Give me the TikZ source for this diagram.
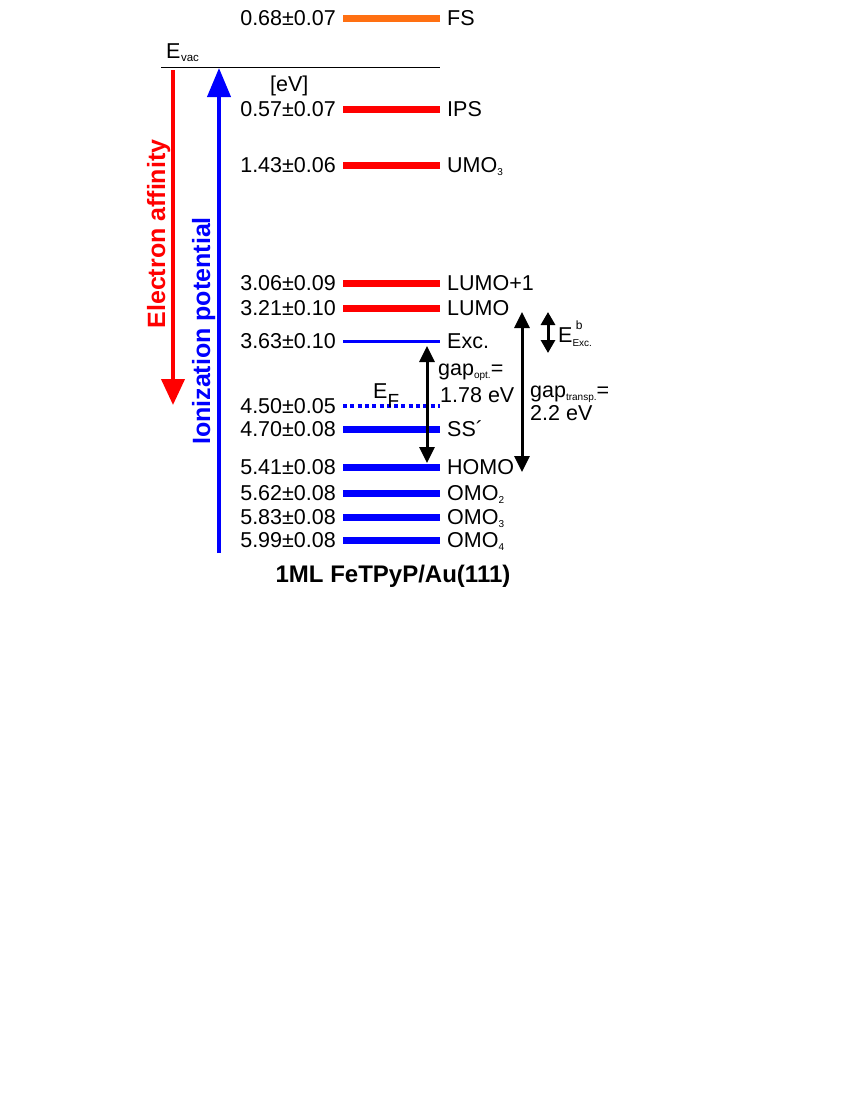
\documentclass[tikz,border=0pt]{standalone}
\usepackage{fontspec}
\setmainfont{Liberation Sans}
\usetikzlibrary{arrows.meta}
\definecolor{fsorange}{RGB}{255,112,18}
\newcommand\lowsub[2][10]{\raisebox{-3pt}{\fontsize{#1}{#1}\selectfont #2}}
\newcommand\Lvl[5]{%
  \coordinate (#1L) at (343,#2);
  \coordinate (#1R) at (440,#2);
  \draw[#3] (#1L) -- (#1R);
  \node[val] (#1v) at (336,#2+7.7) {#4};
  \node[lab] (#1n) at (447,#2+7.7) {#5};}
\begin{document}
\begin{tikzpicture}[x=1pt,y=-1pt,
  big/.style={font=\fontsize{21.5}{24}\selectfont},
  val/.style={anchor=base east,inner sep=0pt,big},
  lab/.style={anchor=base west,inner sep=0pt,big},
  thick lvl/.style={line width=7pt},
  gaparrow/.style={line width=3pt,{Triangle[width=15pt,length=16pt]}-{Triangle[width=15pt,length=16pt]}},
  smallarrow/.style={line width=3pt,{Triangle[width=14pt,length=13pt]}-{Triangle[width=14pt,length=13pt]}},
  bigtext/.style={font=\bfseries\fontsize{25}{28}\selectfont,inner sep=0pt,anchor=base}]
\useasboundingbox (0,0) rectangle (850,1100);

% vacuum level
\coordinate (vacL) at (161,67);
\coordinate (vacR) at (440,67);
\draw[line width=0.9pt] (vacL) -- (vacR);
\node[lab] (evac) at (166,58) {E\lowsub[11.5]{\kern0.5pt vac}};
\node[lab] (ev) at (270,91) {[eV]};

% levels
\Lvl{fs}{18}{thick lvl,fsorange}{0.68\textpm0.07}{FS}
\Lvl{ips}{109}{thick lvl,red}{0.57\textpm0.07}{IPS}
\Lvl{umo}{165}{thick lvl,red}{1.43\textpm0.06}{UMO\lowsub{3}}
\Lvl{lumoa}{283}{thick lvl,red}{3.06\textpm0.09}{LUMO+1}
\Lvl{lumo}{308}{thick lvl,red}{3.21\textpm0.10}{LUMO}
\Lvl{exc}{341}{line width=3pt,blue}{3.63\textpm0.10}{Exc.}
\Lvl{ef}{406}{line width=4pt,blue,dash pattern=on 4pt off 3.3pt}{4.50\textpm0.05}{}
\Lvl{ss}{429}{thick lvl,blue}{4.70\textpm0.08}{SS´}
\Lvl{homo}{467}{thick lvl,blue}{5.41\textpm0.08}{HOMO}
\Lvl{omob}{493}{thick lvl,blue}{5.62\textpm0.08}{OMO\lowsub{2}}
\Lvl{omoc}{517}{thick lvl,blue}{5.83\textpm0.08}{OMO\lowsub{3}}
\Lvl{omod}{540}{thick lvl,blue}{5.99\textpm0.08}{OMO\lowsub{4}}

\node[lab] (efl) at (373,398) {E\raisebox{-9pt}{\fontsize{19}{19}\selectfont F}};

% big arrows
\coordinate (eaTop) at (173,70);
\coordinate (eaEnd) at (173,405);
\draw[red,line width=4pt,-{Triangle[width=23pt,length=26pt]}] (eaTop) -- (eaEnd);
\coordinate (ipBot) at (219,553);
\coordinate (ipTop) at (219,68);
\draw[blue,line width=4pt,-{Triangle[width=23pt,length=29pt]}] (ipBot) -- (ipTop);
\node[bigtext,red,rotate=90] (ea) at (165,234) {Electron affinity};
\node[bigtext,blue,rotate=90] (ip) at (210,331) {Ionization potential};

% gaps
\coordinate (optT) at (427,346);
\coordinate (optB) at (427,463);
\draw[gaparrow] (optT) -- (optB);
\node[lab] (gopt) at (438,375) {gap\lowsub[10]{opt.}=};
\node[lab] (gopt2) at (440,402) {1.78 eV};

\coordinate (trT) at (522,312);
\coordinate (trB) at (522,472);
\draw[gaparrow] (trT) -- (trB);
\node[lab] (gtr) at (530,397) {gap\lowsub[10]{transp.}=};
\node[lab] (gtr2) at (530,420) {2.2 eV};

\coordinate (ebT) at (548,312);
\coordinate (ebB) at (548,353);
\draw[smallarrow] (ebT) -- (ebB);
\node[lab] (eb) at (558,342) {E\raisebox{-4pt}{\fontsize{10}{10}\selectfont Exc.}\kern-16pt\raisebox{13pt}{\fontsize{12}{12}\selectfont b}};

% title
\node[font=\bfseries\fontsize{24}{28}\selectfont,inner sep=0pt,anchor=base] (title) at (393,582) {1ML FeTPyP/Au(111)};
\end{tikzpicture}
\end{document}
